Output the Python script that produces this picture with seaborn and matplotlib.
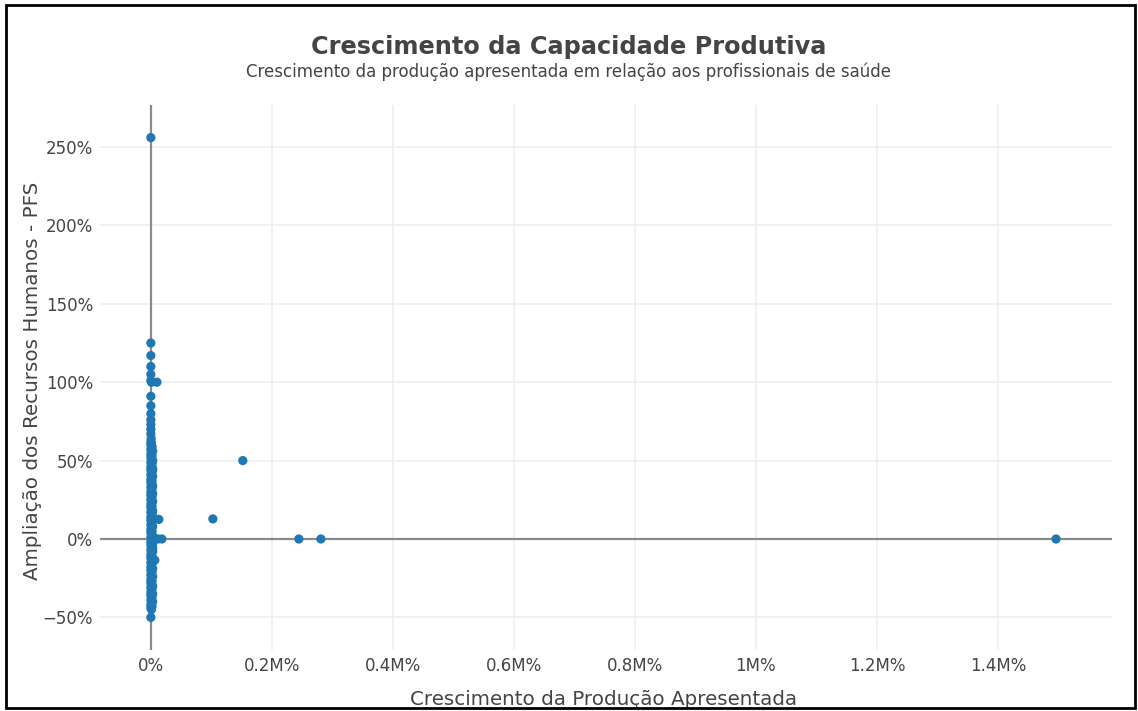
import numpy as np
import pandas as pd
import matplotlib
matplotlib.use("Agg")
import matplotlib.pyplot as plt
import seaborn as sns
from matplotlib.ticker import FuncFormatter

# ------------------------------------------------------------
# Data (growth values as fractions, 1.0 = 100%)
# ------------------------------------------------------------
# sparse points near zero production growth (upper tail)
upper_x = [0, 0, 0, 0, 0, 0, 10, 100, 0, 0, 0, 0, 0, 0, 0, 5]
upper_y = [2.56, 1.25, 1.17, 1.10, 1.05, 1.01, 1.00, 1.00, 0.91, 0.85,
           0.80, 0.76, 0.73, 0.70, 0.67, 0.64]

# dense column near zero production growth
column_x = [0, 10, 0, 20, 10, 0, 30, 10, 0, 20, 0, 10, 30, 0, 20, 10,
            0, 30, 0, 20, 10, 0, 30, 10, 0, 20, 0, 10, 30, 0, 20, 10,
            0, 30, 0, 20, 10, 0, 30, 10, 0, 20, 0, 10, 30, 0, 20, 10,
            0, 30, 0, 20, 10, 0, 30, 10, 0, 20, 0, 10, 30, 0, 20, 10,
            0, 30, 0, 20, 10, 0, 30, 10, 0, 20, 0, 10, 30, 0, 20, 10,
            0, 30, 0, 20, 10, 0, 30, 10, 0, 20, 0, 10, 30, 0, 20, 10,
            0, 30, 0, 20, 10, 0, 30, 10, 0, 20, 0, 10]
column_y = [0.62, 0.61, 0.60, 0.59, 0.58, 0.57, 0.56, 0.55, 0.54, 0.53,
            0.52, 0.51, 0.50, 0.49, 0.48, 0.47, 0.46, 0.45, 0.44, 0.43,
            0.42, 0.41, 0.40, 0.39, 0.38, 0.37, 0.36, 0.35, 0.34, 0.33,
            0.32, 0.31, 0.30, 0.29, 0.28, 0.27, 0.26, 0.25, 0.24, 0.23,
            0.22, 0.21, 0.20, 0.19, 0.18, 0.17, 0.16, 0.15, 0.14, 0.13,
            0.12, 0.11, 0.10, 0.09, 0.08, 0.07, 0.06, 0.05, 0.04, 0.03,
            0.02, 0.01, 0.00, -0.01, -0.02, -0.03, -0.04, -0.05, -0.06, -0.07,
            -0.08, -0.09, -0.10, -0.11, -0.12, -0.13, -0.14, -0.15, -0.16,
            -0.17, -0.18, -0.19, -0.20, -0.21, -0.22, -0.23, -0.24, -0.25,
            -0.26, -0.27, -0.28, -0.29, -0.30, -0.31, -0.32, -0.33, -0.34,
            -0.35, -0.36, -0.37, -0.38, -0.39, -0.40, -0.41, -0.42, -0.43,
            -0.44, -0.45]

# small bumps to the right of the column and the lowest point
bump_x = [30, 132, 60, 120, 182, 30, 66, 0]
bump_y = [0.44, 0.125, 0.13, 0.0, 0.0, -0.06, -0.135, -0.50]

# isolated outliers
outlier_x = [1025, 1520, 2446, 2810, 14960]
outlier_y = [0.128, 0.50, 0.0, 0.0, 0.0]

x_ticks = [0, 2000, 4000, 6000, 8000, 10000, 12000, 14000]
y_ticks = [-0.5, 0.0, 0.5, 1.0, 1.5, 2.0, 2.5]

df = pd.DataFrame({
    "producao": upper_x + column_x + bump_x + outlier_x,
    "rh": upper_y + column_y + bump_y + outlier_y,
})


def fmt_x(v, pos):
    pct = v * 100
    if abs(pct) < 1e-9:
        return "0%"
    return f"{pct / 1e6:g}M%"


def fmt_y(v, pos):
    s = f"{v * 100:g}%"
    return s.replace("-", "\u2212")


# ------------------------------------------------------------
# Plot
# ------------------------------------------------------------
sns.set_theme(style="white")
plt.rcParams["font.family"] = ["DejaVu Sans"]

fig = plt.figure(figsize=(11.38, 7.11), dpi=100)
ax = fig.add_axes([0.0879, 0.0858, 0.889, 0.7665])

for t in x_ticks:
    ax.axvline(t, color="#efefef", lw=1.2, zorder=0)
for t in y_ticks:
    ax.axhline(t, color="#efefef", lw=1.2, zorder=0)
ax.axhline(0, color="#8a8a8a", lw=1.6, zorder=1)
ax.axvline(0, color="#8a8a8a", lw=1.6, zorder=1)

sns.scatterplot(data=df, x="producao", y="rh", ax=ax, color="#1f77b4",
                s=44, edgecolor="none", linewidth=0, zorder=3)

ax.set_xlim(-840, 15880)
ax.set_ylim(-0.708, 2.768)
ax.set_xticks(x_ticks)
ax.set_yticks(y_ticks)
ax.xaxis.set_major_formatter(FuncFormatter(fmt_x))
ax.yaxis.set_major_formatter(FuncFormatter(fmt_y))
ax.tick_params(axis="both", length=0, labelsize=12, colors="#444444",
               pad=5)
for sp in ax.spines.values():
    sp.set_visible(False)

ax.set_xlabel("Crescimento da Produção Apresentada", fontsize=14.3,
              color="#444444")
ax.set_ylabel("Ampliação dos Recursos Humanos - PFS", fontsize=14.3,
              color="#444444")
ax.xaxis.label.set_va("center")
ax.yaxis.label.set_va("center")
ax.xaxis.set_label_coords(0.4975, -0.0917)
ax.yaxis.set_label_coords(-0.067, 0.4936)

fig.text(0.5, 0.934, "Crescimento da Capacidade Produtiva", ha="center",
         va="center", fontsize=17.3, fontweight="bold", color="#444444")
fig.text(0.5, 0.899,
         "Crescimento da produção apresentada em relação aos profissionais de saúde",
         ha="center", va="center", fontsize=12, color="#444444")

# screenshot frame
fig.patches.append(plt.Rectangle((0.005, 0.004), 0.992, 0.989,
                                 transform=fig.transFigure, fill=False,
                                 edgecolor="black", lw=2))

fig.savefig("out.png", dpi=100)
